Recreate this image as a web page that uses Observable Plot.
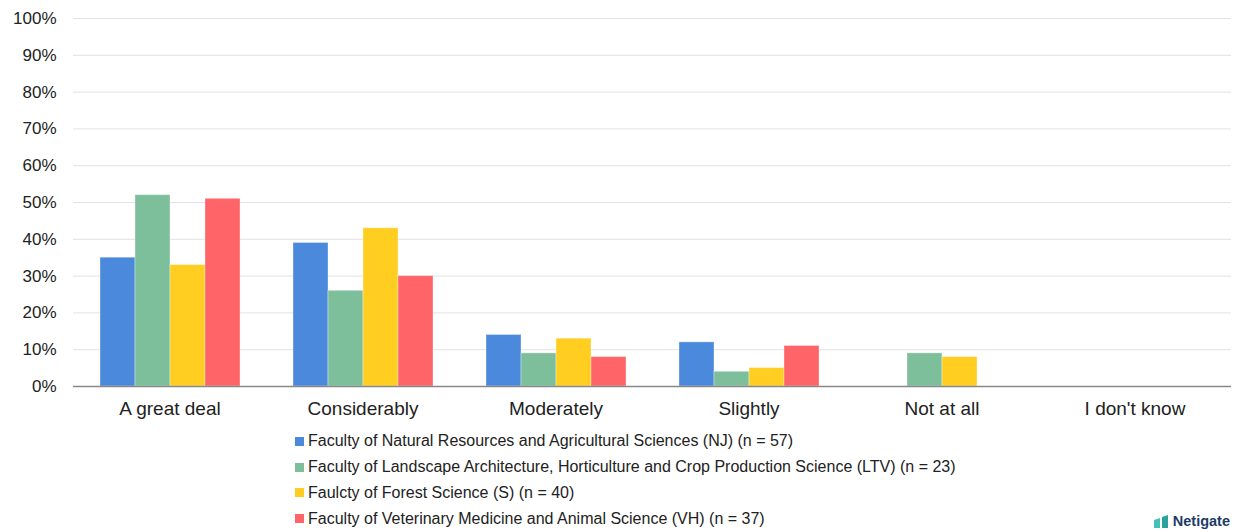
<!DOCTYPE html>
<html>
<head>
<meta charset="utf-8">
<script src="https://cdn.jsdelivr.net/npm/d3@7"></script>
<script src="https://cdn.jsdelivr.net/npm/@observablehq/plot@0.6"></script>
<style>
  html, body { margin: 0; padding: 0; background: #fff; }
  #wrap { position: relative; width: 1240px; height: 529px; font-family: "Liberation Sans", Arial, sans-serif; }
  #legend { position: absolute; left: 295px; top: 428.5px; font-size: 16px; color: #222; }
  .li { display: flex; align-items: center; height: 25.8px; }
  .sw { width: 9px; height: 9px; margin-right: 4px; }
  #logo { position: absolute; right: 10px; bottom: 0px; display: flex; align-items: center; font-family: "Liberation Sans", Arial, sans-serif; font-weight: bold; font-size: 14.5px; color: #1d3b66; }
</style>
</head>
<body>
<div id="wrap">
  <div id="chart"></div>
  <div id="legend"></div>
  <div id="logo"><svg width="15" height="13" viewBox="0 0 15 13" style="margin-right:4px"><path d="M0 5 L6 3 L6 13 L0 13Z" fill="#44c1b6"/><path d="M8 2 L14 0 L14 13 L8 13Z" fill="#2aa39d"/></svg>Netigate</div>
</div>
<script>
const categories = ["A great deal", "Considerably", "Moderately", "Slightly", "Not at all", "I don't know"];
const seriesNames = [
  "Faculty of Natural Resources and Agricultural Sciences (NJ) (n = 57)",
  "Faculty of Landscape Architecture, Horticulture and Crop Production Science (LTV) (n = 23)",
  "Faulcty of Forest Science (S) (n = 40)",
  "Faculty of Veterinary Medicine and Animal Science (VH) (n = 37)"
];
const valuesNJ  = [35, 39, 14, 12, 0, 0];
const valuesLTV = [52, 26, 9, 4, 9, 0];
const valuesS   = [33, 43, 13, 5, 8, 0];
const valuesVH  = [51, 30, 8, 11, 0, 0];
const colors = ["#4a89dc", "#7dbf9a", "#ffce21", "#ff6469"];
const yTicks = [0, 10, 20, 30, 40, 50, 60, 70, 80, 90, 100];

const allValues = [valuesNJ, valuesLTV, valuesS, valuesVH];
const data = [];
categories.forEach((c, i) => {
  seriesNames.forEach((s, j) => {
    data.push({category: c, series: s, value: allValues[j][i]});
  });
});

const chart = Plot.plot({
  width: 1240,
  height: 430,
  marginLeft: 72,
  marginRight: 8,
  marginTop: 18,
  marginBottom: 44,
  style: {fontFamily: "'Liberation Sans', Arial, sans-serif", fontSize: "17px", color: "#222", background: "#fff"},
  fx: {domain: categories, padding: 0, label: null, tickSize: 0, tickPadding: 15, axis: "bottom"},
  x: {domain: seriesNames, paddingInner: 0, paddingOuter: 0.73, axis: null},
  y: {domain: [0, 100], ticks: yTicks, tickFormat: d => d + "%", label: null, tickSize: 0, tickPadding: 17},
  color: {domain: seriesNames, range: colors},
  marks: [
    Plot.ruleY(yTicks.filter(d => d > 0), {stroke: "#e2e2e2", strokeWidth: 1}),
    Plot.barY(data, {fx: "category", x: "series", y: "value", fill: "series", stroke: "#ffffff", strokeOpacity: 0.35, strokeWidth: 1, inset: 0}),
    Plot.ruleY([0], {stroke: "#888", strokeWidth: 1.5})
  ]
});
chart.querySelectorAll("g[aria-label='fx-axis tick label'] text, g[aria-label='fx-axis tick label']").forEach(el => el.style.fontSize = "19px");
document.getElementById("chart").appendChild(chart);

const legend = document.getElementById("legend");
seriesNames.forEach((s, i) => {
  const row = document.createElement("div");
  row.className = "li";
  const sw = document.createElement("div");
  sw.className = "sw";
  sw.style.background = colors[i];
  const t = document.createElement("span");
  t.textContent = s;
  row.appendChild(sw);
  row.appendChild(t);
  legend.appendChild(row);
});
</script>
</body>
</html>
